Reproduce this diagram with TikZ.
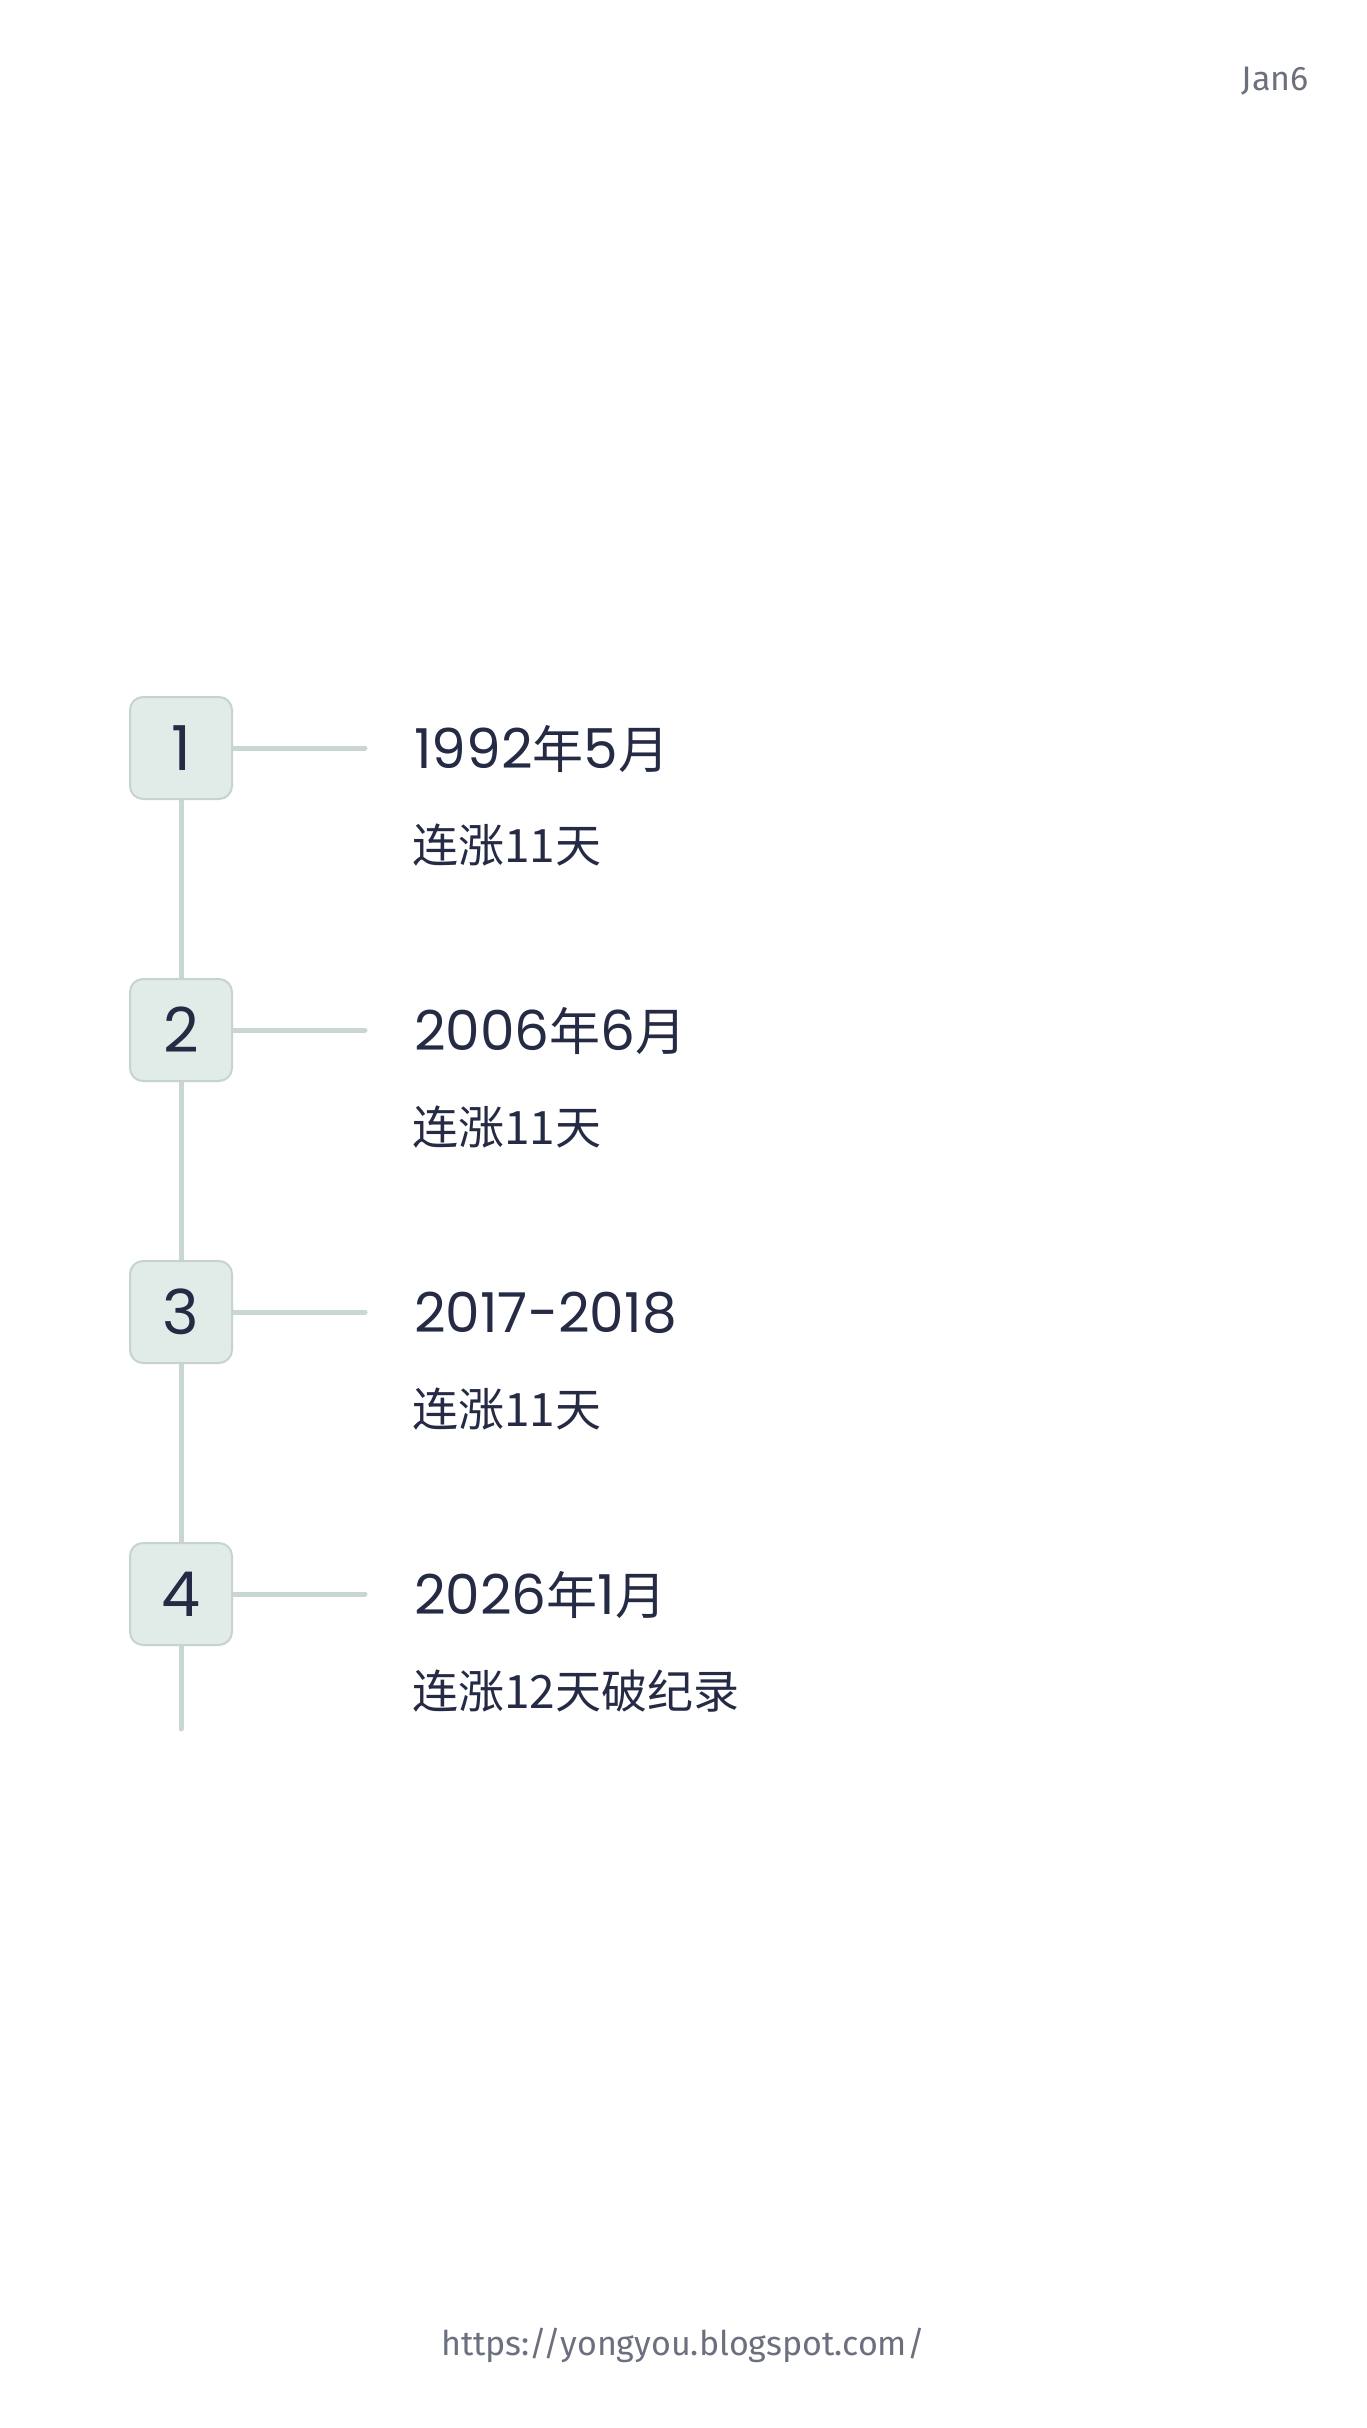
\documentclass[tikz,border=0pt]{standalone}
\usepackage{fontspec}
\setmainfont{Noto Sans CJK SC}
\newfontfamily\cjk{Noto Sans CJK SC}
\newfontfamily\digi[Numbers=Proportional]{Poppins}
\newfontfamily\fira{Fira Sans}
\definecolor{linec}{HTML}{C9D6D3}
\definecolor{boxfill}{HTML}{E1ECE9}
\definecolor{boxdraw}{HTML}{C6D3D0}
\definecolor{ink}{HTML}{262B45}
\definecolor{graytext}{HTML}{6C6F7E}
\newcommand{\dg}[1]{{\digi\fontsize{55}{60}\selectfont #1}}
\begin{document}
\begin{tikzpicture}[x=1pt,y=-1pt,
  numbox/.style={draw=boxdraw,fill=boxfill,line width=2pt,rounded corners=13pt,
    minimum width=102pt,minimum height=102pt,inner sep=0pt,text=ink,
    font=\digi\fontsize{62}{70}\selectfont},
  connector/.style={draw=linec,line width=5pt,line cap=round},
  title/.style={anchor=base west,inner sep=0pt,text=ink,font=\cjk\fontsize{51}{60}\selectfont},
  subtitle/.style={anchor=base west,inner sep=0pt,text=ink,font=\cjk\fontsize{46}{54}\selectfont},
  meta/.style={inner sep=0pt,text=graytext,font=\fira\fontsize{34}{40}\selectfont}]
\useasboundingbox (0,0) rectangle (1366,2428);
\fill[white] (0,0) rectangle (1366,2428);
% coordinates
\coordinate (b1) at (181,748);
\coordinate (b2) at (181,1030);
\coordinate (b3) at (181,1312);
\coordinate (b4) at (181,1594);
\coordinate (tailend) at (181,1729);
\coordinate (h1) at (365,748);
\coordinate (h2) at (365,1030);
\coordinate (h3) at (365,1312);
\coordinate (h4) at (365,1594);
% spine
\draw[connector] (b1) -- (tailend);
% horizontal connectors
\foreach \i in {1,2,3,4} {\draw[connector] (b\i) -- (h\i);}
% boxes
\node[numbox] (n1) at (b1) {1};
\node[numbox] (n2) at (b2) {2};
\node[numbox] (n3) at (b3) {3};
\node[numbox] (n4) at (b4) {4};
% titles
\node[title] (t1) at (414,768) {\dg{1992}年\dg{5}月};
\node[subtitle] (s1) at (412,862) {连涨11天};
\node[title] (t2) at (414,1050) {\dg{2006}年\dg{6}月};
\node[subtitle] (s2) at (412,1144) {连涨11天};
\node[title] (t3) at (414,1332) {\dg{2017-2018}};
\node[subtitle] (s3) at (412,1426) {连涨11天};
\node[title] (t4) at (414,1614) {\dg{2026}年\dg{1}月};
\node[subtitle] (s4) at (412,1708) {连涨12天破纪录};
% meta
\node[meta,anchor=base east] (jan) at (1309,90) {Jan6};
\node[meta,anchor=base] (url) at (683,2355) {https://yongyou.blogspot.com/};
\end{tikzpicture}
\end{document}
